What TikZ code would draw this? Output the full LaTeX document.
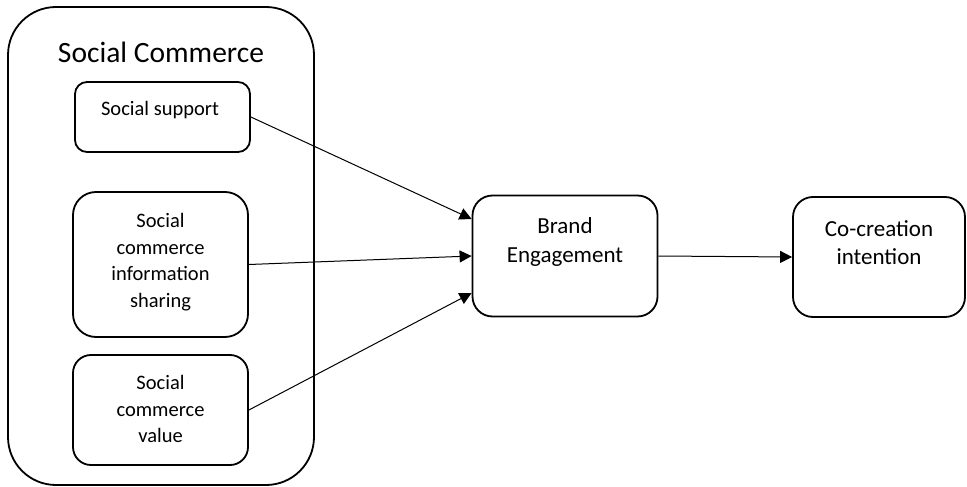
\documentclass[tikz,border=0pt]{standalone}
\usepackage{fontspec}
\setmainfont{Carlito}
\usetikzlibrary{arrows.meta}
\begin{document}
\begin{tikzpicture}[x=1pt,y=-1pt,
  boxshape/.style={draw, line width=1.8pt, inner sep=0pt, rounded corners=#1},
  smalltext/.style={align=center, inner sep=0pt, font=\fontsize{20.5}{26.5}\selectfont},
  bigtext/.style={align=center, inner sep=0pt, font=\fontsize{23}{28.5}\selectfont},
  titletext/.style={inner sep=0pt, font=\fontsize{29.5}{34}\selectfont},
  conn/.style={line width=1pt, -{Triangle[length=12pt,width=12pt]}}]
\useasboundingbox (0,0) rectangle (967,487);
% outer group
\node[boxshape=48pt, minimum width=306pt, minimum height=478pt] (outer) at (161,246) {};
\node[titletext] (title) at (161,52) {Social Commerce};
% inner boxes
\node[boxshape=12pt, minimum width=175pt, minimum height=70pt] (ss) at (162.5,117) {};
\node[smalltext] (sst) at (160,110) {Social support};
\node[boxshape=23pt, minimum width=175pt, minimum height=145pt] (is) at (160.5,264.5) {};
\node[smalltext] (ist) at (160.5,262) {Social\\commerce\\information\\sharing};
\node[boxshape=18pt, minimum width=175pt, minimum height=110pt] (cv) at (160.5,410) {};
\node[smalltext] (cvt) at (160.5,409) {Social\\commerce\\value};
% right boxes
\node[boxshape=20pt, minimum width=185pt, minimum height=121pt] (be) at (565,256) {};
\node[bigtext] (bet) at (565,242) {Brand\\Engagement};
\node[boxshape=20pt, minimum width=172pt, minimum height=120pt] (cc) at (879,257) {};
\node[bigtext] (cct) at (879,242.5) {Co-creation\\intention};
% connectors
\draw[conn] (ss.east) -- ([yshift=37pt]be.west);
\draw[conn] (is.east) -- (be.west);
\draw[conn] (cv.east) -- ([yshift=-37pt]be.west);
\draw[conn] (be.east) -- (cc.west);
\end{tikzpicture}
\end{document}
